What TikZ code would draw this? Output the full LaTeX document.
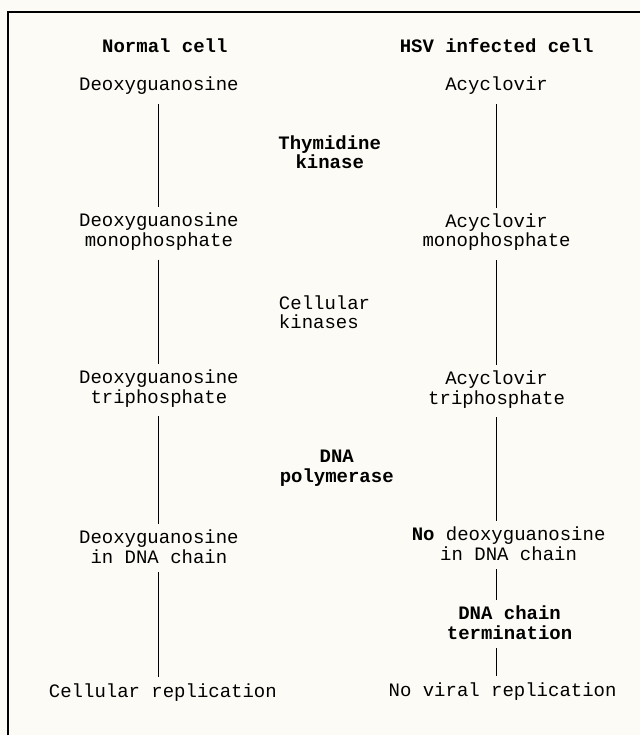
\documentclass[tikz,border=0pt]{standalone}
\usepackage{fontspec}
\setmonofont{Liberation Mono}
\definecolor{paper}{RGB}{252,251,245}
\tikzset{
  lbl/.style={font=\ttfamily\fontsize{19}{19.5}\selectfont, align=center, inner sep=3pt},
  head/.style={lbl, font=\ttfamily\bfseries\fontsize{19}{19.5}\selectfont},
  link/.style={line width=1.2pt, shorten <=6pt, shorten >=3pt},
}
\begin{document}
\begin{tikzpicture}[x=1pt,y=-1pt]
    \fill[paper] (0,0) rectangle (641,736); %page
    \draw[line width=1.2pt] (8,736) -- (8,12) -- (641,12); %frame
    % column heads
    \node[head] (normal) at (165,46) {Normal cell};
    \node[head] (hsv) at (497,46) {HSV infected cell};
    % normal cell
    \node[lbl] (dg) at (159,86) {Deoxyguanosine};
    \node[lbl] (dgmp) at (159,232) {Deoxyguanosine\\monophosphate};
    \node[lbl] (dgtp) at (159,389) {Deoxyguanosine\\triphosphate};
    \node[lbl] (dgdna) at (159,547) {Deoxyguanosine\\in DNA chain};
    \node[lbl] (cellrep) at (163,693) {Cellular replication};
    % infected cell
    \node[lbl] (acv) at (497,86) {Acyclovir};
    \node[lbl] (acvmp) at (497,232.5) {Acyclovir\\monophosphate};
    \node[lbl] (acvtp) at (497,390) {Acyclovir\\triphosphate};
    \node[lbl] (nodg) at (509,544) {{\bfseries No} deoxyguanosine\\in DNA chain};
    \node[head] (term) at (510,623) {DNA chain\\termination};
    \node[lbl] (norep) at (503,692) {No viral replication};
    % enzymes
    \node[head] (tk) at (330,152.5) {Thymidine\\kinase};
    \node[lbl, align=left, anchor=west] (ck) at (276,312.5) {Cellular\\kinases};
    \node[head] (dp) at (337,468.5) {DNA\\polymerase};
    % steps
    \draw[link] (dg) -- (dgmp);
    \draw[link] (dgmp) -- (dgtp);
    \draw[link] (dgtp) -- (dgdna);
    \draw[link] (dgdna) -- (dgdna |- cellrep.north);
    \draw[link] (acv) -- (acvmp);
    \draw[link] (acvmp) -- (acvtp);
    \draw[link] (acvtp) -- (acvtp |- nodg.north);
    \draw[link] (nodg.south -| acvtp) -- (term.north -| acvtp);
    \draw[link] (term.south -| acvtp) -- (norep.north -| acvtp);
\end{tikzpicture}
\end{document}
